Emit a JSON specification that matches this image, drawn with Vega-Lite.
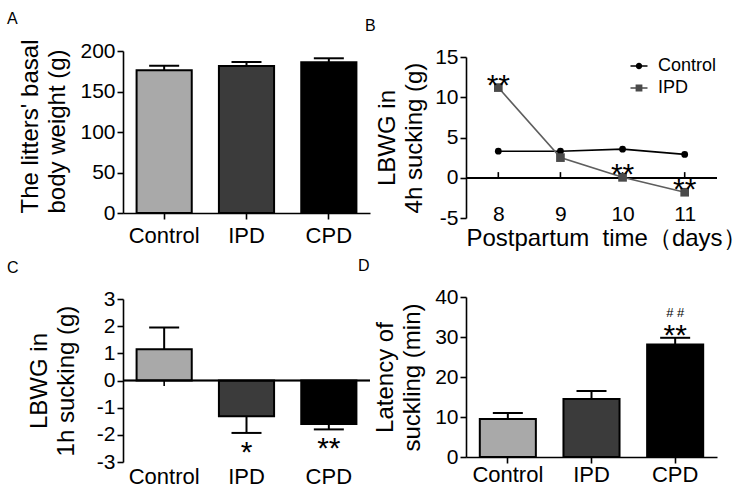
{
  "$schema": "https://vega.github.io/schema/vega-lite/v6.json",
  "background": "white",
  "padding": {"left": 7, "top": 11, "right": 0, "bottom": 0},
  "config": {
    "font": "Liberation Sans",
    "view": {"stroke": null},
    "axis": {
      "domainColor": "black", "domainWidth": 1.6, "tickColor": "black", "tickWidth": 1.6, "tickSize": 6,
      "labelColor": "black", "labelFontSize": 21, "labelFont": "Liberation Sans", "labelPadding": 2,
      "titleFont": "Liberation Sans", "titleFontSize": 24, "titleFontWeight": "normal", "titleColor": "black",
      "grid": false, "labelFlush": false, "labelOverlap": false
    },
    "axisX": {"labelFontSize": 22, "labelAngle": 0},
    "legend": {"symbolSize": 289, "labelFontSize": 18, "labelFont": "Liberation Sans", "labelOffset": 10, "rowPadding": 4, "padding": 0, "symbolStrokeWidth": 0, "symbolOpacity": 1, "labelColor": "black", "labelLimit": 200},
    "title": {"fontSize": 16, "fontWeight": "normal", "anchor": "start", "frame": "group", "color": "black", "font": "Liberation Sans"}
  },
  "columns": 2,
  "bounds": "flush",
  "spacing": {"row": 79, "column": 96},
  "datasets": {
    "basal": [
      {"group": "Control", "mean": 176.2, "hi": 181.9},
      {"group": "IPD", "mean": 181.5, "hi": 186.4},
      {"group": "CPD", "mean": 186.0, "hi": 191.0}
    ],
    "gain4h": [
      {"day": 8, "group": "Control", "value": 3.3, "star": ""},
      {"day": 9, "group": "Control", "value": 3.3, "star": ""},
      {"day": 10, "group": "Control", "value": 3.55, "star": ""},
      {"day": 11, "group": "Control", "value": 2.9, "star": ""},
      {"day": 8, "group": "IPD", "value": 11.2, "star": "**"},
      {"day": 9, "group": "IPD", "value": 2.5, "star": ""},
      {"day": 10, "group": "IPD", "value": 0.05, "star": "**"},
      {"day": 11, "group": "IPD", "value": -1.8, "star": "**"}
    ],
    "gain1h": [
      {"group": "Control", "mean": 1.15, "err": 1.95, "star": ""},
      {"group": "IPD", "mean": -1.32, "err": -1.93, "star": "*"},
      {"group": "CPD", "mean": -1.6, "err": -1.8, "star": "**"}
    ],
    "latency": [
      {"group": "Control", "mean": 9.5, "hi": 11.0, "star": "", "hash": ""},
      {"group": "IPD", "mean": 14.5, "hi": 16.5, "star": "", "hash": ""},
      {"group": "CPD", "mean": 28.1, "hi": 29.8, "star": "**", "hash": "# #"}
    ]
  },
  "concat": [
    {
      "width": 247, "height": 162,
      "title": {"text": "A", "dx": -116, "dy": -8},
      "data": {"name": "basal"},
      "encoding": {
        "x": {"field": "group", "type": "nominal", "sort": null,
              "scale": {"paddingInner": 0.33, "paddingOuter": 0.165},
              "axis": {"title": null, "labelPadding": 6}}
      },
      "layer": [
        {"mark": {"type": "bar", "stroke": "black", "strokeWidth": 2},
         "encoding": {
           "y": {"field": "mean", "type": "quantitative", "scale": {"domain": [0, 200], "padding": 0},
                 "axis": {"values": [0, 50, 100, 150, 200], "tickCount": 10, "title": ["The litters' basal", "body weight (g)"],
                          "titleAnchor": "start", "titlePadding": 10, "titleLineHeight": 27}},
           "fill": {"field": "group", "type": "nominal", "scale": {"domain": ["Control", "IPD", "CPD"], "range": ["#a9a9a9", "#3b3b3b", "#000000"]}, "legend": null}
         }},
        {"mark": {"type": "rule", "strokeWidth": 2, "color": "black"},
         "encoding": {"y": {"field": "mean", "type": "quantitative"}, "y2": {"field": "hi"}}},
        {"mark": {"type": "tick", "thickness": 2, "size": 30, "color": "black", "opacity": 1},
         "encoding": {"y": {"field": "hi", "type": "quantitative"}}}
      ]
    },
    {
      "width": 251, "height": 167,
      "title": {"text": "B", "dx": -101, "dy": -8},
      "data": {"name": "gain4h"},
      "encoding": {
        "x": {"field": "day", "type": "ordinal", "scale": {"type": "point", "padding": 0.52},
              "axis": {"title": "Postpartum\u00a0\u00a0time\uff08days\uff09", "titleFontSize": 24, "titleAnchor": "start", "titleAlign": "left", "titlePadding": 2,
                       "domain": false, "ticks": false, "tickSize": 0, "labelPadding": -15, "labelFontSize": 21}}
      },
      "layer": [
        {"mark": {"type": "rule", "color": "black", "strokeWidth": 1.6},
         "encoding": {"x": null, "y": {"datum": 0, "type": "quantitative",
                      "scale": {"domain": [-5, 15], "range": [167, 6], "padding": 0, "nice": false, "zero": false},
                      "axis": {"values": [-5, 0, 5, 10, 15], "tickCount": 10, "labelExpr": "'' + datum.value", "title": ["LBWG in", "4h sucking (g)"], "titlePadding": 8, "titleLineHeight": 27}}}},
        {"transform": [{"filter": "datum.group == 'Control'"}],
         "mark": {"type": "rule", "color": "black", "strokeWidth": 1.6},
         "encoding": {"y": {"datum": 0, "type": "quantitative"}, "y2": {"datum": 0.7}}},
        {"transform": [{"filter": "datum.group == 'Control'"}],
         "mark": {"type": "line", "strokeWidth": 1.6, "color": "#000000"},
         "encoding": {"y": {"field": "value", "type": "quantitative"}}},
        {"transform": [{"filter": "datum.group == 'IPD'"}],
         "mark": {"type": "line", "strokeWidth": 1.6, "color": "#5e5e5e"},
         "encoding": {"y": {"field": "value", "type": "quantitative"}}},
        {"transform": [{"filter": "datum.group == 'Control'"}],
         "mark": {"type": "point", "filled": true, "shape": "circle", "size": 46, "color": "#000000", "opacity": 1},
         "encoding": {"y": {"field": "value", "type": "quantitative"}}},
        {"transform": [{"filter": "datum.group == 'IPD'"}],
         "mark": {"type": "point", "filled": true, "shape": "square", "size": 75, "color": "#4a4a4a", "opacity": 1},
         "encoding": {"y": {"field": "value", "type": "quantitative"}}},
        {"mark": {"type": "text", "fontSize": 30, "baseline": "alphabetic", "dy": 7, "color": "black"},
         "encoding": {"y": {"field": "value", "type": "quantitative"}, "text": {"field": "star"}}},
        {"mark": {"type": "point", "filled": true, "opacity": 0},
         "encoding": {
           "y": {"field": "value", "type": "quantitative"},
           "shape": {"field": "group", "type": "nominal",
                     "scale": {"domain": ["Control", "IPD"], "range": ["M-1,-0.08H1V0.08H-1ZM0.38,0A0.38,0.38,0,1,1,-0.38,0A0.38,0.38,0,1,1,0.38,0Z", "M-1,-0.08H1V0.08H-1ZM-0.4,-0.4H0.4V0.4H-0.4Z"]},
                     "legend": {"title": null, "orient": "none", "legendX": 507, "legendY": 6, "labelFontSize": 18, "symbolSize": 289, "symbolOpacity": 1, "labelOffset": 10, "rowPadding": 4}},
           "color": {"field": "group", "type": "nominal",
                     "scale": {"domain": ["Control", "IPD"], "range": ["#000000", "#4a4a4a"]},
                     "legend": {"title": null, "orient": "none", "legendX": 507, "legendY": 6, "labelFontSize": 18, "symbolSize": 289, "symbolOpacity": 1, "labelOffset": 10, "rowPadding": 4}}
         }}
      ]
    },
    {
      "width": 247, "height": 165,
      "title": {"text": "C", "dx": -116, "dy": -8},
      "data": {"name": "gain1h"},
      "encoding": {
        "x": {"field": "group", "type": "nominal", "sort": null,
              "scale": {"paddingInner": 0.33, "paddingOuter": 0.165},
              "axis": {"title": null, "domain": false, "ticks": false, "tickSize": 0, "labelPadding": 4}}
      },
      "layer": [
        {"mark": {"type": "rule", "color": "black", "strokeWidth": 1.6},
         "encoding": {"y": {"datum": 0, "type": "quantitative"}, "y2": {"datum": -0.2}}},
        {"mark": {"type": "bar", "stroke": "black", "strokeWidth": 2},
         "encoding": {
           "y": {"field": "mean", "type": "quantitative", "scale": {"domain": [-3, 3], "range": [165, 2], "padding": 0},
                 "axis": {"values": [-3, -2, -1, 0, 1, 2, 3], "tickCount": 10, "labelExpr": "'' + datum.value", "title": ["LBWG in", "1h sucking (g)"], "titlePadding": 18, "titleLineHeight": 27}},
           "fill": {"field": "group", "type": "nominal", "scale": {"domain": ["Control", "IPD", "CPD"], "range": ["#a9a9a9", "#3b3b3b", "#000000"]}, "legend": null}
         }},
        {"mark": {"type": "rule", "strokeWidth": 2, "color": "black"},
         "encoding": {"y": {"field": "mean", "type": "quantitative"}, "y2": {"field": "err"}}},
        {"mark": {"type": "tick", "thickness": 2, "size": 30, "color": "black", "opacity": 1},
         "encoding": {"y": {"field": "err", "type": "quantitative"}}},
        {"mark": {"type": "rule", "color": "black", "strokeWidth": 1.6},
         "encoding": {"x": null, "y": {"datum": 0, "type": "quantitative"}}},
        {"mark": {"type": "text", "fontSize": 30, "baseline": "alphabetic", "dy": 29, "color": "black"},
         "encoding": {"y": {"field": "err", "type": "quantitative"}, "text": {"field": "star"}}}
      ]
    },
    {
      "width": 251, "height": 160,
      "title": {"text": "D", "dx": -108, "dy": -8},
      "data": {"name": "latency"},
      "encoding": {
        "x": {"field": "group", "type": "nominal", "sort": null,
              "scale": {"paddingInner": 0.33, "paddingOuter": 0.165},
              "axis": {"title": null, "labelPadding": 1}}
      },
      "layer": [
        {"mark": {"type": "bar", "stroke": "black", "strokeWidth": 2},
         "encoding": {
           "y": {"field": "mean", "type": "quantitative", "scale": {"domain": [0, 40], "padding": 0},
                 "axis": {"values": [0, 10, 20, 30, 40], "tickCount": 10, "title": ["Latency of", "suckling (min)"], "titlePadding": 10, "titleLineHeight": 27}},
           "fill": {"field": "group", "type": "nominal", "scale": {"domain": ["Control", "IPD", "CPD"], "range": ["#a9a9a9", "#3b3b3b", "#000000"]}, "legend": null}
         }},
        {"mark": {"type": "rule", "strokeWidth": 2, "color": "black"},
         "encoding": {"y": {"field": "mean", "type": "quantitative"}, "y2": {"field": "hi"}}},
        {"mark": {"type": "tick", "thickness": 2, "size": 30, "color": "black", "opacity": 1},
         "encoding": {"y": {"field": "hi", "type": "quantitative"}}},
        {"mark": {"type": "text", "fontSize": 30, "baseline": "alphabetic", "dy": 7, "color": "black"},
         "encoding": {"y": {"field": "hi", "type": "quantitative"}, "text": {"field": "star"}}},
        {"mark": {"type": "text", "fontSize": 13, "baseline": "alphabetic", "dy": -21, "color": "black"},
         "encoding": {"y": {"field": "hi", "type": "quantitative"}, "text": {"field": "hash"}}}
      ]
    }
  ]
}
